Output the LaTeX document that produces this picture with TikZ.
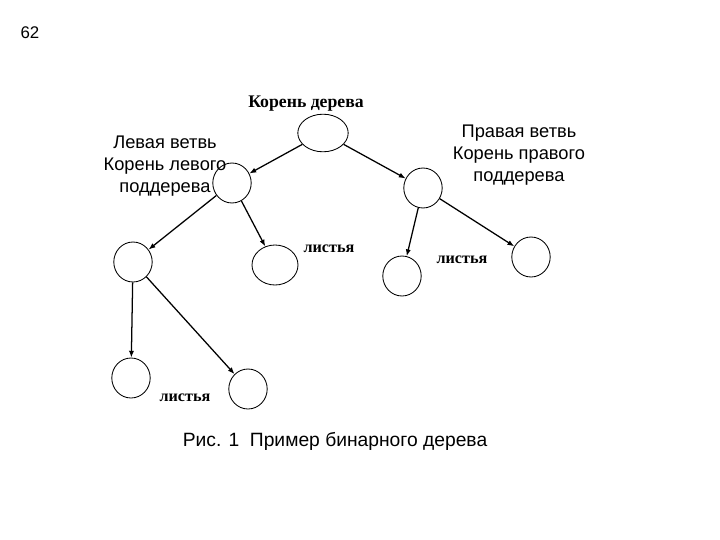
\documentclass[tikz,border=0pt]{standalone}
\usepackage{fontspec}
\setmainfont{Liberation Serif}
\setsansfont{Liberation Sans}
\usetikzlibrary{arrows.meta,shapes.geometric}

\begin{document}
\begin{tikzpicture}[
  x=0.25mm,y=-0.25mm,
  vertex/.style={draw=black, ellipse, fill=white, line width=0.6pt, inner sep=0pt, minimum width=9.6mm, minimum height=10mm},
  bigvertex/.style={vertex, minimum width=12.6mm, minimum height=9.4mm},
  branch/.style={font=\sffamily\fontsize{13}{15.6}\selectfont, align=center},
  leaves/.style={font=\bfseries\fontsize{11.5}{13}\selectfont},
  edge/.style={-{Latex[length=1.7mm,width=1.3mm]}, line width=0.9pt, draw=black}
]
\useasboundingbox (0,0) rectangle (720,540);

\node[font=\sffamily\fontsize{12}{14}\selectfont] (page) at (30,33) {62};

% nodes of the tree
\node[bigvertex] (root) at (323,133) {};
\node[vertex] (left) at (232,183) {};
\node[vertex] (right) at (423,188) {};
\node[vertex] (leftleft) at (133,262) {};
\node[vertex, minimum width=11.5mm] (leftright) at (275,265) {};
\node[vertex] (rightleft) at (402,276) {};
\node[vertex] (rightright) at (531,257) {};
\node[vertex] (lll) at (131,378) {};
\node[vertex] (llr) at (248,389) {};

% labels
\node[font=\bfseries\fontsize{12.6}{14}\selectfont] (rootlbl) at (306,104) {Корень дерева};
\node[branch] (leftlbl) at (165,166) {Левая ветвь\\Корень левого\\поддерева};
\node[branch] (rightlbl) at (519,155) {Правая ветвь\\Корень правого\\поддерева};
\node[leaves] (leaf1) at (329,249) {листья};
\node[leaves] (leaf2) at (462,260) {листья};
\node[leaves] (leaf3) at (185,398) {листья};

% connectors
\draw[edge] (root) -- (left);
\draw[edge] (root) -- (right);
\draw[edge] (left) -- (leftleft);
\draw[edge] (left) -- (leftright);
\draw[edge] (right) -- (rightleft);
\draw[edge] (right) -- (rightright);
\draw[edge] (leftleft) -- (lll);
\draw[edge] (leftleft) -- (llr);

\node[font=\sffamily\fontsize{13.7}{16}\selectfont] (caption) at (335,441) {Рис. 1\ \ Пример бинарного дерева};
\end{tikzpicture}
\end{document}
